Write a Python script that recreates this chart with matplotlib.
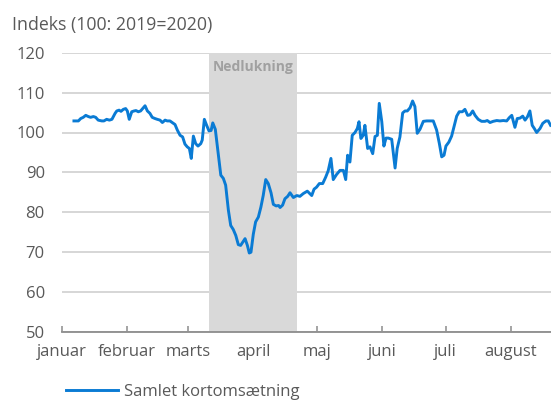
import matplotlib
matplotlib.use("Agg")
import matplotlib.pyplot as plt

# ---- data (day 0 = 1 January 2020) ----
days = [5.9, 8.0, 9.1, 10.3, 11.5, 12.7, 13.8, 15.1, 16.2, 17.4, 19.1, 20.1, 21.4, 22.7, 23.9,
        25.4, 26.2, 27.3, 28.2, 29.3, 30.4, 31.2, 32.1, 33.3, 34.4, 35.3, 36.4, 37.5, 38.5, 39.6,
        40.7, 41.9, 43.0, 44.3, 45.4, 46.7, 47.8, 49.1, 50.1, 51.4, 52.5, 53.8, 54.9, 56.2, 57.4,
        58.5, 59.6, 60.6, 61.5, 62.5, 63.6, 64.7, 66.0, 66.7, 67.7, 68.8, 69.9, 70.9, 71.7, 72.9,
        74.3, 75.5, 76.7, 77.8, 79.1, 80.2, 81.4, 82.6, 83.8, 84.9, 85.9, 87.0, 88.1, 89.0, 89.8,
        90.9, 92.0, 93.3, 94.5, 95.6, 96.8, 98.0, 99.3, 100.4, 101.7, 102.9, 103.6, 104.8, 105.9,
        107.2, 108.3, 109.9, 111.5, 113.0, 114.6, 116.5, 118.6, 119.7, 120.9, 122.2, 123.8, 125.2,
        126.4, 127.7, 128.8, 130.4, 132.0, 133.6, 134.7, 135.6, 136.7, 137.8, 139.1, 140.2, 141.0,
        141.9, 143.0, 143.8, 145.1, 146.2, 147.5, 148.6, 149.7, 150.6, 151.8, 152.8, 153.8, 154.9,
        156.5, 158.1, 159.1, 160.4, 161.7, 162.8, 163.9, 165.2, 166.4, 167.5, 168.6, 169.9, 171.5,
        173.1, 175.0, 176.2, 177.8, 179.1, 180.2, 181.3, 182.2, 183.6, 184.9, 186.2, 187.3, 188.5,
        190.0, 191.2, 192.5, 193.6, 194.9, 196.0, 197.5, 199.1, 200.7, 201.8, 203.1, 204.6, 206.3,
        207.8, 209.4, 211.0, 212.2, 213.4, 214.9, 216.0, 217.3, 218.6, 219.7, 220.8, 222.0, 223.1,
        224.1, 225.2, 226.8, 228.1, 229.6, 230.7, 231.8]
values = [102.9, 102.9, 103.5, 103.8, 104.3, 104.0, 103.8, 104.0, 103.8, 103.1, 102.9, 102.9, 103.3, 103.1, 103.3,
          104.8, 105.4, 105.6, 105.3, 105.8, 106.0, 105.4, 103.3, 105.2, 105.4, 105.5, 105.2, 105.4, 106.0, 106.7,
          105.4, 104.8, 103.8, 103.5, 103.3, 103.1, 102.5, 103.1, 102.9, 102.9, 102.5, 102.0, 100.6, 99.3, 98.9,
          97.1, 96.4, 96.0, 93.5, 99.1, 97.2, 96.6, 97.2, 98.1, 103.3, 101.8, 100.4, 100.5, 102.4, 100.8,
          94.7, 89.3, 88.5, 86.8, 80.5, 76.7, 75.7, 74.2, 71.9, 71.7, 72.5, 73.4, 71.7, 69.8, 70.0,
          74.5, 77.6, 78.8, 81.3, 84.2, 88.2, 87.2, 84.9, 82.0, 81.6, 81.7, 81.2, 81.8, 83.4,
          84.0, 84.9, 83.7, 84.2, 84.0, 84.7, 85.3, 84.2, 85.8, 86.3, 87.2, 87.2, 88.8,
          90.4, 93.5, 88.2, 89.5, 90.5, 90.5, 88.2, 94.3, 92.6, 99.3, 100.0, 101.0, 102.7,
          98.5, 99.3, 101.8, 96.0, 96.4, 94.7, 99.0, 99.3, 107.3, 102.7, 96.6, 98.6, 98.6,
          98.3, 91.1, 96.0, 98.9, 104.9, 105.4, 105.4, 106.2, 107.9, 106.5, 99.8, 100.8, 102.8,
          102.9, 102.9, 102.9, 100.6, 97.2, 93.9, 94.3, 96.6, 97.6, 99.1, 101.8, 104.1, 105.2,
          105.2, 105.8, 104.3, 104.4, 105.4, 104.3, 103.3, 102.8, 102.8, 103.0, 102.5, 102.8, 103.0,
          102.9, 103.0, 102.9, 103.7, 104.3, 101.3, 103.5, 103.6, 104.1, 103.1, 103.9, 105.4, 101.8,
          101.0, 100.0, 101.0, 102.3, 102.9, 102.9, 101.8]
series_name = "Samlet kortomsætning"
month_starts = [0, 31, 60, 91, 121, 152, 182, 213]
month_labels = ["januar", "februar", "marts", "april", "maj", "juni", "juli", "august"]
lockdown_start, lockdown_end = 70, 111.5
lockdown_label = "Nedlukning"
y_ticks = [50, 60, 70, 80, 90, 100, 110, 120]
title = "Indeks (100: 2019=2020)"

plt.rcParams['font.family'] = ['Open Sans', 'DejaVu Sans']
TXT = '#595959'

W, H = 551, 401
fig = plt.figure(figsize=(W / 100, H / 100), dpi=100)
left_px, right_px, top_px, bot_px = 61.5, 551, 52.7, 332
ax = fig.add_axes([left_px / W, 1 - bot_px / H, (right_px - left_px) / W, (bot_px - top_px) / H])

ax.set_xlim(0, 232.0)
ax.set_ylim(50, 120)

ax.set_yticks(y_ticks)
ax.set_yticklabels([str(v) for v in y_ticks])
ax.yaxis.grid(True, color='#d3d3d3', linewidth=1.3, zorder=0)
ax.set_axisbelow(True)

ax.axvspan(lockdown_start, lockdown_end, color='#d9d9d9', zorder=1, linewidth=0)
ax.text((lockdown_start + lockdown_end) / 2, 116.4, lockdown_label, ha='center', va='center',
        fontsize=10, fontweight='bold', color='#a0a0a0', zorder=2)

ax.plot(days, values, color='#0a7bd4', linewidth=2.1, zorder=3, label=series_name,
        solid_joinstyle='round')

ax.set_xticks(month_starts)
ax.set_xticklabels(month_labels)

for s in ['top', 'right', 'left']:
    ax.spines[s].set_visible(False)
ax.spines['bottom'].set_color('#8c8c8c')
ax.spines['bottom'].set_linewidth(1.3)
ax.spines['bottom'].set_zorder(4)

ax.tick_params(axis='x', direction='in', length=4, width=1.1, color='#8c8c8c',
               labelsize=12, labelcolor=TXT, pad=9)
ax.tick_params(axis='y', length=0, labelsize=12, labelcolor=TXT, pad=12)

fig.text(12 / W, 1 - 16 / H, title, ha='left', va='top', fontsize=12.8, color=TXT)

fig.legend(loc='center left', bbox_to_anchor=(66 / W, 1 - 392 / H), frameon=False,
           fontsize=12, handlelength=3.1, handletextpad=0.4, borderpad=0, borderaxespad=0,
           labelcolor=TXT)

fig.savefig('out.png', dpi=100)
